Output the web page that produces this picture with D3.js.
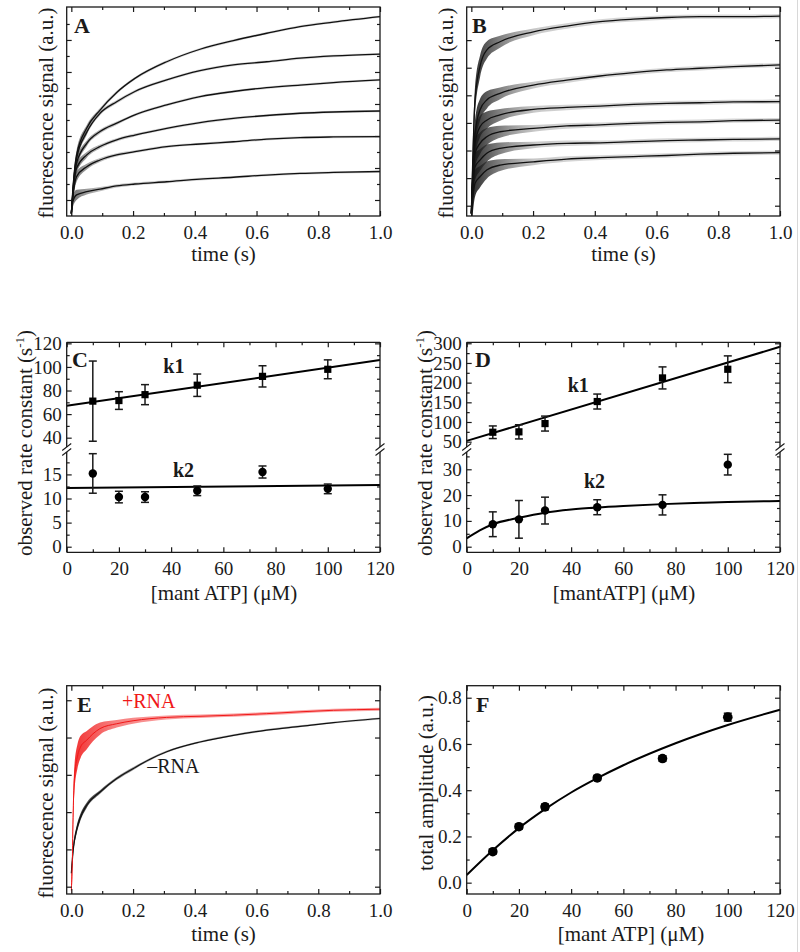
<!DOCTYPE html>
<html><head><meta charset="utf-8">
<script src="https://cdnjs.cloudflare.com/ajax/libs/d3/7.8.5/d3.min.js"></script>
<style>body{margin:0;background:#fff} svg{display:block}</style>
</head><body><script>
// ================= DATA =================
const timeMajor = [0, 0.2, 0.4, 0.6, 0.8, 1.0];
const timeMinor = [0.1, 0.3, 0.5, 0.7, 0.9];
const concMajor = [0, 20, 40, 60, 80, 100, 120];
const concMinor = [10, 30, 50, 70, 90, 110];

// Panel A: six fluorescence traces (fit), arbitrary units
const tA = [0, 0.004, 0.017, 0.05, 0.093, 0.147, 0.206, 0.309, 0.417, 0.525, 0.633, 0.741, 0.849, 1.0];
const aTrace1 = [0.58, 1.2, 2.4, 3.25, 3.81, 4.36, 4.80, 5.32, 5.71, 5.98, 6.21, 6.42, 6.56, 6.73];
const aTrace2 = [0.58, 1.15, 2.3, 3.12, 3.71, 4.07, 4.39, 4.75, 5.04, 5.22, 5.32, 5.43, 5.50, 5.56];
const aTrace3 = [0.58, 1.1, 2.15, 2.77, 3.14, 3.40, 3.66, 3.97, 4.23, 4.39, 4.51, 4.59, 4.67, 4.75];
const aTrace4 = [0.58, 1.05, 1.99, 2.41, 2.67, 2.88, 3.03, 3.24, 3.42, 3.55, 3.64, 3.71, 3.75, 3.78];
const aTrace5 = [0.58, 1.0, 1.73, 2.04, 2.25, 2.41, 2.51, 2.67, 2.75, 2.82, 2.90, 2.95, 2.97, 2.98];
const aTrace6 = [0.58, 0.92, 1.16, 1.26, 1.34, 1.44, 1.50, 1.57, 1.65, 1.71, 1.78, 1.83, 1.86, 1.89];
const aNoiseT = [0, 0.02, 0.05, 0.1, 0.2, 1.0];
const aNoiseHW = [0.2, 0.15, 0.09, 0.06, 0.045, 0.035];
const aYMajor = [1, 2, 3, 4, 5, 6];
const aYMinor = [1.5, 2.5, 3.5, 4.5, 5.5, 6.5];

// Panel B
const tB = [0, 0.012, 0.028, 0.05, 0.093, 0.201, 0.309, 0.417, 0.525, 0.633, 0.741, 0.849, 1.0];
const bTrace1 = [0.72, 4.83, 6.04, 6.64, 6.94, 7.30, 7.51, 7.67, 7.76, 7.82, 7.85, 7.85, 7.87];
const bTrace2 = [0.72, 3.62, 4.47, 4.83, 5.07, 5.37, 5.55, 5.70, 5.82, 5.92, 5.98, 6.04, 6.10];
const bTrace3 = [0.72, 3.26, 3.86, 4.10, 4.29, 4.49, 4.56, 4.61, 4.67, 4.71, 4.73, 4.76, 4.77];
const bTrace4 = [0.72, 2.90, 3.26, 3.50, 3.68, 3.80, 3.89, 3.93, 3.98, 4.02, 4.04, 4.08, 4.10];
const bTrace5 = [0.72, 2.41, 2.65, 2.90, 3.08, 3.20, 3.26, 3.28, 3.32, 3.36, 3.38, 3.40, 3.42];
const bTrace6 = [0.72, 1.81, 2.05, 2.29, 2.47, 2.59, 2.69, 2.74, 2.78, 2.82, 2.87, 2.90, 2.92];
const bNoiseT = [0, 0.01, 0.03, 0.06, 0.1, 0.2, 0.4, 1.0];
const bNoiseHW = [0.6, 0.5, 0.38, 0.28, 0.2, 0.12, 0.085, 0.075];
const bYTicks = [1, 2, 3, 4, 5, 6, 7];

// Panel C
const conc = [10, 20, 30, 50, 75, 100];
const cK1 = [71, 71.5, 76.5, 84.5, 92, 98];
const cK1Err = [34, 7.5, 8.5, 9.5, 9, 8];
const cK2 = [15.2, 10.3, 10.3, 11.6, 15.5, 12];
const cK2Err = [4.1, 1.2, 1.1, 1.0, 1.25, 1.0];
const cFitX = [0, 120];
const cK1Fit = [67, 105.8];
const cK2Fit = [12.2, 12.8];
const cUpMajor = [40, 60, 80, 100, 120], cUpMinor = [50, 70, 90, 110];
const cLoMajor = [0, 5, 10, 15], cLoMinor = [2.5, 7.5, 12.5, 17.5];

// Panel D
const dK1 = [74, 75, 96, 152, 212, 234];
const dK1Err = [16, 18, 19, 19, 28, 34];
const dK2 = [8.7, 10.6, 14, 15.3, 16.2, 31.8];
const dK2Err = [4.8, 7.3, 5.2, 2.9, 3.9, 4];
const dK1FitX = [0, 120];
const dK1Fit = [52, 291];
const dK2FitX = [0, 5, 10, 20, 30, 40, 50, 60, 75, 90, 100, 120];
const dK2Fit = [3.2, 6.3, 8.7, 11.2, 13.2, 14.4, 15.2, 15.8, 16.5, 17.0, 17.3, 17.7];
const dUpMajor = [50, 100, 150, 200, 250, 300], dUpMinor = [75, 125, 175, 225, 275];
const dLoMajor = [0, 10, 20, 30], dLoMinor = [5, 15, 25, 35];

// Panel E
const eRedT = [0, 0.003, 0.006, 0.01, 0.02, 0.03, 0.05, 0.07, 0.093, 0.147, 0.2, 0.309, 0.417, 0.525, 0.633, 0.741, 0.849, 1.0];
const eRedV = [0.9, 1.6, 3.0, 3.9, 4.5, 4.75, 4.93, 5.1, 5.24, 5.37, 5.45, 5.54, 5.57, 5.60, 5.64, 5.69, 5.73, 5.76];
const eRedNoiseT = [0, 0.01, 0.03, 0.06, 0.1, 0.15, 0.25, 0.4, 1.0];
const eRedNoiseHW = [0.35, 0.35, 0.3, 0.22, 0.15, 0.1, 0.06, 0.045, 0.04];
const eBlkT = [0, 0.006, 0.017, 0.028, 0.05, 0.093, 0.147, 0.201, 0.255, 0.309, 0.417, 0.525, 0.633, 0.741, 0.849, 1.0];
const eBlkV = [1.36, 1.98, 2.52, 2.83, 3.19, 3.54, 3.90, 4.17, 4.42, 4.62, 4.88, 5.06, 5.20, 5.30, 5.40, 5.51];
const eBlkNoiseT = [0, 0.02, 0.05, 0.1, 0.3, 1.0];
const eBlkNoiseHW = [0.12, 0.1, 0.07, 0.045, 0.03, 0.025];
const eYTicks = [1, 2, 3, 4, 5, 6];

// Panel F
const fAmp = [0.134, 0.242, 0.328, 0.453, 0.537, 0.716];
const fAmpErr = [0.01, 0.01, 0.012, 0.01, 0.012, 0.017];
const fFitX = [0, 10, 20, 30, 40, 50, 60, 80, 100, 120];
const fFit = [0.033, 0.14, 0.236, 0.318, 0.39, 0.452, 0.508, 0.603, 0.682, 0.748];
const fYMajor = [0, 0.2, 0.4, 0.6, 0.8], fYMinor = [0.1, 0.3, 0.5, 0.7];

// ================= DRAWING =================
const FONT = '"Liberation Serif","Times New Roman",Times,serif';
const INK = "#1a1a1a";
const svg = d3.select("body").append("svg").attr("width", 800).attr("height", 952)
  .attr("font-family", FONT);
const defs = svg.append("defs");

svg.append("line").attr("x1", 797.5).attr("x2", 797.5).attr("y1", 0).attr("y2", 952)
  .attr("stroke", "#d8d8d8").attr("stroke-width", 1);

const PA = {x0: 66.7, x1: 380, y0: 7, y1: 216};
const PB = {x0: 466.7, x1: 780, y0: 7, y1: 216};
const PC = {x0: 66.7, x1: 380, y0: 342.3, y1: 552.3};
const PD = {x0: 466.7, x1: 780, y0: 342.3, y1: 552.3};
const PE = {x0: 66.7, x1: 380, y0: 685.7, y1: 894};
const PF = {x0: 466.7, x1: 780, y0: 685.7, y1: 894};
const BRK_TOP = 447, BRK_BOT = 452;

let defId = 0;
function makeClip(p) {
  const id = "clip" + (defId++);
  defs.append("clipPath").attr("id", id).append("rect")
    .attr("x", p.x0).attr("y", p.y0).attr("width", p.x1 - p.x0).attr("height", p.y1 - p.y0);
  return "url(#" + id + ")";
}
function makeGrad(x, stops) {
  const id = "grad" + (defId++);
  const gr = defs.append("linearGradient").attr("id", id).attr("gradientUnits", "userSpaceOnUse")
    .attr("x1", x(0)).attr("x2", x(0.35)).attr("y1", 0).attr("y2", 0);
  stops.forEach(s => gr.append("stop").attr("offset", s[0]).attr("stop-color", s[1]).attr("stop-opacity", s[2]));
  return "url(#" + id + ")";
}

function styleAxis(a) {
  a.select(".domain").remove();
  a.attr("color", INK).attr("font-family", FONT).attr("font-size", 19);
  a.selectAll("line").attr("stroke-width", 1.2);
  return a;
}
function addAxis(axis, tr) { return styleAxis(svg.append("g").attr("transform", tr).call(axis)); }

function xAxes(p, x, major, minor, fmt) {
  addAxis(d3.axisBottom(x).tickValues(major).tickSize(-5).tickPadding(9.5).tickFormat(fmt), `translate(0,${p.y1})`);
  addAxis(d3.axisBottom(x).tickValues(minor).tickSize(-3).tickFormat(""), `translate(0,${p.y1})`);
  addAxis(d3.axisTop(x).tickValues(major).tickSize(-5).tickFormat(""), `translate(0,${p.y0})`);
  addAxis(d3.axisTop(x).tickValues(minor).tickSize(-3).tickFormat(""), `translate(0,${p.y0})`);
}
function yAxes(p, y, major, minor, fmt) {
  addAxis(d3.axisLeft(y).tickValues(major).tickSize(-5).tickPadding(5).tickFormat(fmt), `translate(${p.x0},0)`);
  if (minor) addAxis(d3.axisLeft(y).tickValues(minor).tickSize(-3).tickFormat(""), `translate(${p.x0},0)`);
  addAxis(d3.axisRight(y).tickValues(major).tickSize(-5).tickFormat(""), `translate(${p.x1},0)`);
  if (minor) addAxis(d3.axisRight(y).tickValues(minor).tickSize(-3).tickFormat(""), `translate(${p.x1},0)`);
}
function frame(p, broken) {
  const g = svg.append("g").attr("stroke", INK).attr("stroke-width", 1.3).attr("fill", "none");
  if (!broken) {
    g.append("rect").attr("x", p.x0).attr("y", p.y0).attr("width", p.x1 - p.x0).attr("height", p.y1 - p.y0);
  } else {
    g.append("line").attr("x1", p.x0).attr("x2", p.x1).attr("y1", p.y0).attr("y2", p.y0);
    g.append("line").attr("x1", p.x0).attr("x2", p.x1).attr("y1", p.y1).attr("y2", p.y1);
    [p.x0, p.x1].forEach(xx => {
      g.append("line").attr("x1", xx).attr("x2", xx).attr("y1", p.y0).attr("y2", BRK_TOP);
      g.append("line").attr("x1", xx).attr("x2", xx).attr("y1", BRK_BOT).attr("y2", p.y1);
      g.append("line").attr("x1", xx - 4.5).attr("x2", xx + 4.5).attr("y1", BRK_TOP + 3.5).attr("y2", BRK_TOP - 3.5).attr("stroke-width", 1.1);
      g.append("line").attr("x1", xx - 4.5).attr("x2", xx + 4.5).attr("y1", BRK_BOT + 3.5).attr("y2", BRK_BOT - 3.5).attr("stroke-width", 1.1);
    });
  }
}
function panelLetter(txt, x, y) {
  svg.append("text").attr("x", x).attr("y", y).attr("font-size", 22).attr("font-weight", "bold")
    .attr("fill", INK).text(txt);
}
function yTitle(x, y, parts) {
  const t = svg.append("text").attr("transform", `translate(${x},${y}) rotate(-90)`)
    .attr("text-anchor", "middle").attr("font-size", 21).attr("fill", INK);
  parts.forEach(pt => {
    const s = t.append("tspan").text(pt.text);
    if (pt.dy) s.attr("dy", pt.dy);
    if (pt.size) s.attr("font-size", pt.size);
  });
}
function xTitle(x, y, txt) {
  svg.append("text").attr("x", x).attr("y", y).attr("text-anchor", "middle")
    .attr("font-size", 21).attr("fill", INK).text(txt);
}

// ---- time-trace panel ----
function tracePanel(p, yDomain, traces, yMajor, yMinor) {
  const x = d3.scaleLinear().domain([-0.015, 1.0]).range([p.x0, p.x1]);
  const y = d3.scaleLinear().domain(yDomain).range([p.y1, p.y0]);
  const clip = makeClip(p);
  const g = svg.append("g").attr("clip-path", clip);
  traces.forEach(tr => {
    const fill = makeGrad(x, tr.stops);
    const hw = d3.scaleLinear().domain(tr.noiseT).range(tr.noiseHW).clamp(true);
    const pts = tr.t.map((t, i) => ({t, v: tr.v[i], h: hw(t)}));
    g.append("path").datum(pts)
      .attr("d", d3.area().x(d => x(d.t)).y0(d => y(d.v - d.h)).y1(d => y(d.v + d.h)).curve(d3.curveMonotoneX))
      .attr("fill", fill).attr("stroke", "none");
  });
  traces.forEach(tr => {
    const pts = tr.t.map((t, i) => [t, tr.v[i]]);
    g.append("path").datum(pts)
      .attr("d", d3.line().x(d => x(d[0])).y(d => y(d[1])).curve(d3.curveMonotoneX))
      .attr("fill", "none").attr("stroke", tr.color).attr("stroke-width", tr.width);
  });
  xAxes(p, x, timeMajor, timeMinor, d3.format(".1f"));
  yAxes(p, y, yMajor, yMinor, "");
  frame(p, false);
  return {x, y};
}

// Panel A
const aStops = [[0, "#333", 0.7], [0.3, "#777", 0.45], [1, "#999", 0.4]];
const aAll = [aTrace1, aTrace2, aTrace3, aTrace4, aTrace5, aTrace6];
tracePanel(PA, [0.5, 7.03], aAll.map(v => ({t: tA, v, noiseT: aNoiseT, noiseHW: aNoiseHW,
  stops: aStops, color: "#111", width: 1.3})), aYMajor, aYMinor);
panelLetter("A", 74, 33);
yTitle(53, 113, [{text: "fluorescence signal (a.u.)"}]);
xTitle(223.5, 261, "time (s)");

// Panel B
const bStops = [[0, "#111", 0.9], [0.25, "#444", 0.7], [0.6, "#888", 0.45], [1, "#999", 0.4]];
const bAll = [bTrace1, bTrace2, bTrace3, bTrace4, bTrace5, bTrace6];
tracePanel(PB, [0.627, 8.2], bAll.map(v => ({t: tB, v, noiseT: bNoiseT, noiseHW: bNoiseHW,
  stops: bStops, color: "#111", width: 1.3})), bYTicks, null);
panelLetter("B", 472, 33);
yTitle(453, 113, [{text: "fluorescence signal (a.u.)"}]);
xTitle(623.5, 261, "time (s)");

// Panel E
const eSc = tracePanel(PE, [0.804, 6.39], [
  {t: eBlkT, v: eBlkV, noiseT: eBlkNoiseT, noiseHW: eBlkNoiseHW, stops: [[0, "#111", 0.9], [0.4, "#333", 0.6], [1, "#555", 0.4]], color: "#111", width: 1.2},
  {t: eRedT, v: eRedV, noiseT: eRedNoiseT, noiseHW: eRedNoiseHW, stops: [[0, "#f01818", 0.9], [0.4, "#f01818", 0.55], [1, "#f01818", 0.4]], color: "#f01818", width: 1.0}
], eYTicks, null);
panelLetter("E", 77, 712);
svg.append("text").attr("x", eSc.x(0.164)).attr("y", eSc.y(5.79)).attr("font-size", 20).attr("fill", "#f01818").text("+RNA");
svg.append("text").attr("x", eSc.x(0.246)).attr("y", eSc.y(4.05)).attr("font-size", 20).attr("fill", INK).text("\u2013RNA");
yTitle(53, 793, [{text: "fluorescence signal (a.u.)"}]);
xTitle(223.5, 941, "time (s)");

// ---- rate-constant panels ----
function errPoints(g, x, y, xs, vals, errs, shape) {
  const cap = 4;
  xs.forEach((xv, i) => {
    const px = x(xv), lo = y(vals[i] - errs[i]), hi = y(vals[i] + errs[i]);
    g.append("line").attr("x1", px).attr("x2", px).attr("y1", lo).attr("y2", hi).attr("stroke", INK).attr("stroke-width", 1.5);
    g.append("line").attr("x1", px - cap).attr("x2", px + cap).attr("y1", lo).attr("y2", lo).attr("stroke", INK).attr("stroke-width", 1.5);
    g.append("line").attr("x1", px - cap).attr("x2", px + cap).attr("y1", hi).attr("y2", hi).attr("stroke", INK).attr("stroke-width", 1.5);
  });
  xs.forEach((xv, i) => {
    const px = x(xv), py = y(vals[i]);
    if (shape === "square") g.append("rect").attr("x", px - 3.6).attr("y", py - 3.6).attr("width", 7.2).attr("height", 7.2).attr("fill", "#000");
    else g.append("circle").attr("cx", px).attr("cy", py).attr("r", shape === "big" ? 4.8 : 4.2).attr("fill", "#000");
  });
}
function fitLine(g, x, y, xs, ys, curve) {
  g.append("path").datum(xs.map((v, i) => [v, ys[i]]))
    .attr("d", d3.line().x(d => x(d[0])).y(d => y(d[1])).curve(curve || d3.curveLinear))
    .attr("fill", "none").attr("stroke", "#000").attr("stroke-width", 2);
}

function ratePanel(p, upDom, loDom, up, lo) {
  const x = d3.scaleLinear().domain([0, 120]).range([p.x0, p.x1]);
  const yU = d3.scaleLinear().domain(upDom).range([BRK_TOP, p.y0]);
  const yL = d3.scaleLinear().domain(loDom).range([p.y1, BRK_BOT]);
  const g = svg.append("g");
  fitLine(g, x, yU, up.fitX, up.fit, up.curve);
  fitLine(g, x, yL, lo.fitX, lo.fit, lo.curve);
  errPoints(g, x, yU, conc, up.vals, up.errs, "square");
  errPoints(g, x, yL, conc, lo.vals, lo.errs, "circle");
  xAxes(p, x, concMajor, concMinor, d3.format("d"));
  yAxes(p, yU, up.major, up.minor, d3.format("d"));
  yAxes(p, yL, lo.major, lo.minor, d3.format("d"));
  frame(p, true);
  return {x, yU, yL};
}

// Panel C
const cSc = ratePanel(PC, [32.1, 120.9], [-1.16, 19.65],
  {fitX: cFitX, fit: cK1Fit, vals: cK1, errs: cK1Err, major: cUpMajor, minor: cUpMinor},
  {fitX: cFitX, fit: cK2Fit, vals: cK2, errs: cK2Err, major: cLoMajor, minor: cLoMinor});
panelLetter("C", 72, 367);
svg.append("text").attr("x", cSc.x(37)).attr("y", cSc.yU(95)).attr("font-size", 20).attr("font-weight", "bold").attr("fill", INK).text("k1");
svg.append("text").attr("x", cSc.x(40.7)).attr("y", cSc.yL(14.5)).attr("font-size", 20).attr("font-weight", "bold").attr("fill", INK).text("k2");
yTitle(32, 443, [{text: "observed rate constant (s"}, {text: "-1", dy: -8, size: 13}, {text: ")", dy: 8}]);
xTitle(224, 600, "[mant ATP] (\u03bcM)");

// Panel D
const dSc = ratePanel(PD, [36.5, 302.5], [-2.17, 36.7],
  {fitX: dK1FitX, fit: dK1Fit, vals: dK1, errs: dK1Err, major: dUpMajor, minor: dUpMinor},
  {fitX: dK2FitX, fit: dK2Fit, vals: dK2, errs: dK2Err, major: dLoMajor, minor: dLoMinor, curve: d3.curveMonotoneX});
panelLetter("D", 475, 367);
svg.append("text").attr("x", dSc.x(38.7)).attr("y", dSc.yU(177)).attr("font-size", 20).attr("font-weight", "bold").attr("fill", INK).text("k1");
svg.append("text").attr("x", dSc.x(44.9)).attr("y", dSc.yL(22.6)).attr("font-size", 20).attr("font-weight", "bold").attr("fill", INK).text("k2");
yTitle(432, 443, [{text: "observed rate constant (s"}, {text: "-1", dy: -8, size: 13}, {text: ")", dy: 8}]);
xTitle(624, 600, "[mantATP] (\u03bcM)");

// Panel F
(function () {
  const p = PF;
  const x = d3.scaleLinear().domain([0, 120]).range([p.x0, p.x1]);
  const y = d3.scaleLinear().domain([-0.049, 0.852]).range([p.y1, p.y0]);
  const g = svg.append("g");
  fitLine(g, x, y, fFitX, fFit, d3.curveMonotoneX);
  errPoints(g, x, y, conc, fAmp, fAmpErr, "big");
  xAxes(p, x, concMajor, concMinor, d3.format("d"));
  yAxes(p, y, fYMajor, fYMinor, d3.format(".1f"));
  frame(p, false);
})();
panelLetter("F", 476, 712);
yTitle(433, 783, [{text: "total amplitude (a.u.)"}]);
xTitle(631, 941, "[mant ATP] (\u03bcM)");
</script></body></html>
